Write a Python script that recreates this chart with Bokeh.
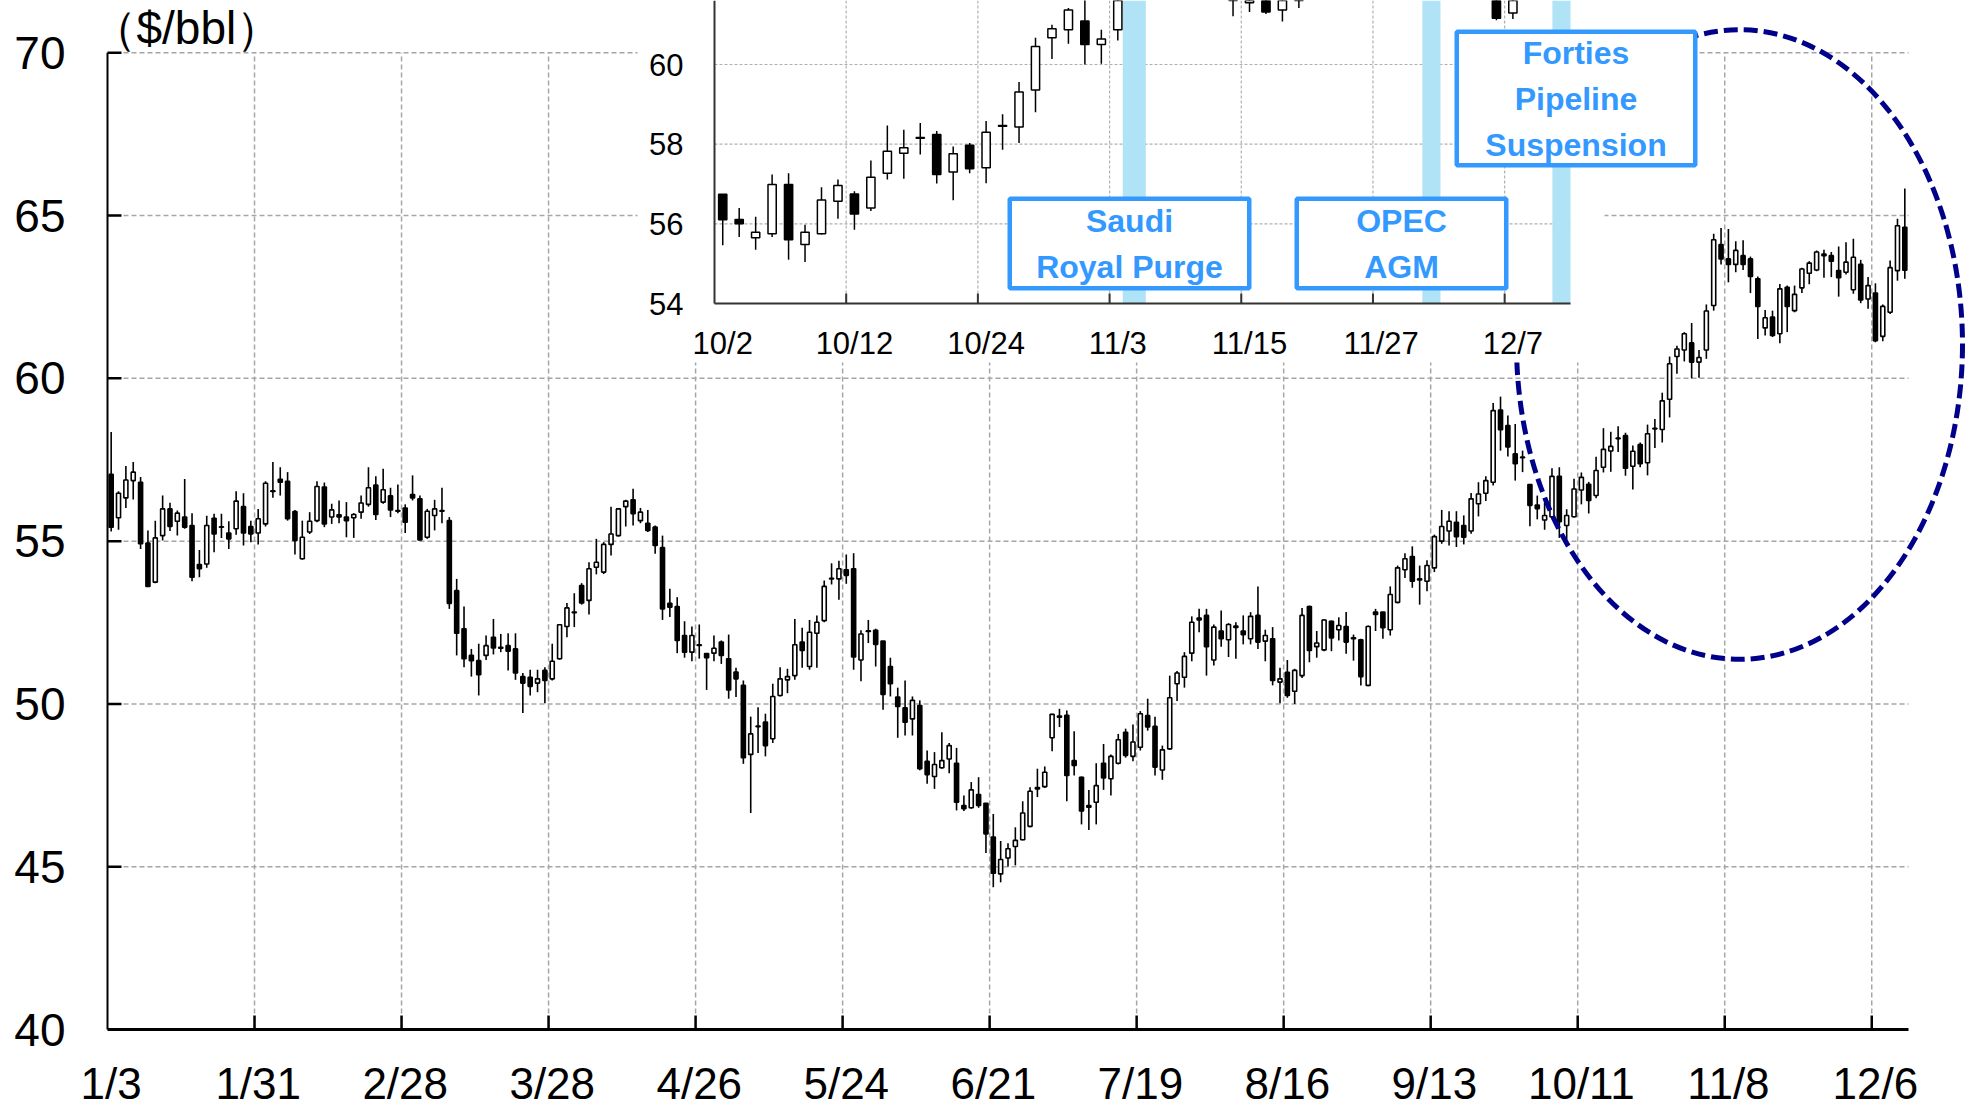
import numpy as np
from bokeh.plotting import figure
from bokeh.models import Range1d, Label, LabelSet, ColumnDataSource
from bokeh.core.properties import value
from bokeh.embed import file_html
from bokeh.resources import INLINE

# ---------------- data: Brent daily OHLC, trading days 1/3 .. 12/12 ----------------
OPEN = [
    57.05, 55.72, 56.33, 56.86, 56.81, 54.94, 53.74, 55.17, 55.99, 55.61,
    55.74, 55.48, 54.28, 54.30, 55.70, 55.43, 55.25, 55.38, 56.06, 55.45,
    55.25, 55.53, 56.55, 56.90, 56.84, 55.91, 54.46, 55.28, 55.63, 56.66,
    55.74, 55.81, 55.74, 55.72, 55.89, 56.13, 56.72, 56.20, 56.39, 55.94,
    56.02, 56.43, 56.30, 55.12, 55.79, 55.94, 55.63, 53.48, 52.31, 51.49,
    51.33, 51.49, 52.05, 51.74, 51.79, 51.69, 50.84, 50.82, 50.64, 51.03,
    50.77, 51.39, 52.38, 52.82, 53.64, 53.18, 54.20, 54.05, 54.90, 55.17,
    56.06, 56.27, 55.63, 55.55, 55.43, 54.80, 53.09, 52.99, 52.10, 51.59,
    51.82, 51.55, 51.56, 51.90, 51.39, 50.98, 50.57, 48.45, 49.32, 49.44,
    48.93, 50.26, 50.74, 50.87, 51.90, 51.15, 52.17, 52.56, 53.86, 53.84,
    54.12, 54.15, 51.35, 52.25, 52.26, 51.93, 51.15, 50.21, 49.88, 49.54,
    49.95, 48.24, 47.77, 48.04, 48.31, 48.18, 46.88, 46.81, 47.22, 46.95,
    45.91, 44.78, 45.27, 45.62, 45.83, 46.24, 47.43, 47.46, 48.96, 49.63,
    49.65, 48.26, 47.75, 46.88, 46.98, 48.18, 47.70, 48.18, 49.13, 48.39,
    48.67, 49.64, 49.31, 47.97, 48.62, 50.62, 50.82, 51.56, 52.64, 52.72,
    51.35, 52.24, 51.97, 52.39, 52.24, 52.00, 52.72, 51.93, 52.00, 50.67,
    50.97, 50.39, 50.87, 52.99, 51.76, 51.66, 52.54, 52.28, 52.38, 52.03,
    51.97, 50.57, 52.82, 52.82, 52.28, 53.12, 54.12, 54.53, 53.84, 53.77,
    54.18, 55.00, 55.31, 55.58, 55.48, 55.31, 56.15, 56.47, 56.81, 59.03,
    58.55, 57.68, 57.58, 56.74, 56.11, 55.65, 55.75, 56.99, 55.48, 55.75,
    56.57, 56.75, 56.40, 57.27, 57.77, 58.17, 58.24, 57.30, 57.97, 57.41,
    58.45, 58.43, 59.36, 60.67, 60.87, 61.09, 60.50, 60.87, 62.24, 64.11,
    63.67, 63.50, 63.77, 63.67, 63.06, 61.55, 61.88, 61.37, 62.80, 62.08,
    62.78, 63.23, 63.33, 63.82, 63.77, 63.31, 63.26, 62.72, 63.50, 62.44,
    62.62, 61.29, 62.03, 63.31, 64.64,
]
HIGH = [
    58.35, 56.53, 57.31, 57.43, 56.97, 55.33, 55.63, 56.40, 56.18, 55.94,
    56.91, 55.86, 54.73, 55.78, 55.84, 55.84, 55.61, 56.53, 56.47, 55.63,
    55.99, 56.84, 57.43, 57.27, 57.12, 55.96, 55.63, 55.89, 56.84, 56.80,
    56.15, 56.25, 56.20, 55.86, 56.40, 57.27, 56.99, 57.22, 56.64, 56.74,
    56.13, 57.02, 56.40, 55.99, 56.27, 56.64, 55.74, 53.84, 52.99, 51.69,
    51.85, 52.10, 52.61, 52.15, 52.17, 52.17, 50.95, 51.05, 51.05, 51.13,
    51.85, 52.44, 53.10, 53.40, 53.71, 54.35, 55.07, 54.97, 56.06, 56.02,
    56.27, 56.61, 56.02, 55.96, 55.48, 55.17, 53.54, 53.28, 52.54, 52.38,
    52.44, 51.55, 52.10, 51.95, 52.13, 51.11, 50.72, 49.61, 49.90, 49.70,
    50.62, 51.13, 51.08, 52.61, 52.34, 52.58, 52.72, 53.79, 54.32, 54.40,
    54.59, 54.63, 52.26, 52.58, 52.31, 51.93, 51.42, 50.50, 50.72, 50.23,
    50.11, 48.57, 48.52, 49.13, 48.80, 48.65, 47.19, 47.60, 47.75, 46.95,
    46.62, 45.79, 45.72, 46.21, 47.01, 47.44, 48.01, 48.08, 49.70, 49.85,
    49.80, 49.16, 47.77, 47.36, 48.18, 48.77, 48.45, 49.08, 49.24, 49.37,
    49.78, 50.16, 49.61, 48.72, 50.87, 51.01, 51.59, 52.69, 52.92, 52.92,
    52.44, 52.87, 52.48, 52.51, 52.72, 52.82, 53.61, 52.28, 52.36, 51.11,
    51.35, 51.08, 52.95, 53.02, 52.24, 52.61, 52.56, 52.66, 52.82, 52.13,
    52.00, 52.41, 52.92, 52.82, 53.61, 54.25, 54.63, 54.84, 54.25, 54.41,
    55.20, 55.96, 55.92, 55.92, 55.79, 56.48, 56.81, 56.99, 59.24, 59.44,
    58.86, 58.60, 57.78, 56.74, 56.40, 56.18, 57.24, 57.27, 55.98, 56.92,
    57.11, 56.82, 57.59, 58.47, 58.36, 58.53, 58.33, 57.94, 58.03, 58.58,
    58.75, 59.56, 60.67, 61.00, 61.42, 61.70, 60.87, 62.27, 64.44, 64.62,
    64.59, 64.21, 64.24, 63.74, 63.13, 62.10, 62.08, 62.90, 62.85, 62.85,
    63.40, 63.60, 63.93, 63.95, 63.88, 64.05, 64.18, 64.29, 63.64, 63.11,
    62.92, 62.27, 63.62, 64.90, 65.83,
]
LOW = [
    55.30, 55.35, 56.02, 56.28, 54.76, 53.59, 53.71, 55.02, 55.31, 55.17,
    55.38, 53.77, 53.89, 54.18, 54.66, 55.10, 54.76, 55.20, 54.87, 54.97,
    54.90, 55.45, 56.33, 56.40, 55.63, 54.59, 54.43, 55.22, 55.58, 55.43,
    55.53, 55.55, 55.12, 55.10, 55.69, 56.06, 55.65, 56.15, 55.74, 55.86,
    55.25, 56.25, 55.02, 55.07, 55.33, 55.55, 52.92, 51.49, 51.13, 50.84,
    50.26, 51.35, 51.52, 51.59, 51.03, 50.74, 49.72, 50.26, 50.36, 50.02,
    50.72, 51.36, 52.05, 52.36, 53.05, 52.75, 53.98, 53.99, 54.56, 55.14,
    55.45, 55.48, 55.55, 55.28, 54.61, 52.58, 52.67, 51.56, 51.42, 51.31,
    51.39, 50.43, 51.31, 51.23, 50.16, 50.21, 48.16, 46.65, 48.49, 48.39,
    48.80, 50.23, 50.33, 50.74, 51.11, 51.05, 51.11, 52.51, 53.67, 53.20,
    53.69, 51.05, 50.70, 51.87, 51.15, 49.82, 50.23, 48.96, 49.03, 49.03,
    47.96, 47.55, 47.39, 48.01, 47.87, 46.73, 46.71, 46.78, 46.81, 45.42,
    44.37, 44.52, 45.01, 45.04, 45.81, 46.21, 47.14, 47.42, 48.55, 49.29,
    47.01, 47.80, 46.30, 46.13, 46.30, 47.36, 47.19, 48.14, 48.35, 48.24,
    48.57, 49.18, 47.80, 47.67, 48.59, 50.09, 50.50, 51.31, 52.20, 50.87,
    51.18, 51.76, 51.44, 51.39, 51.83, 51.83, 51.69, 51.31, 50.57, 50.02,
    50.19, 50.00, 50.80, 51.28, 51.42, 51.62, 51.62, 51.95, 51.54, 51.33,
    50.57, 50.54, 52.24, 52.00, 52.10, 53.09, 53.87, 53.57, 53.05, 53.46,
    54.05, 54.92, 54.87, 54.82, 54.90, 55.23, 55.76, 56.23, 56.71, 57.78,
    57.60, 56.86, 57.12, 55.46, 55.67, 55.35, 55.67, 55.10, 55.04, 55.73,
    56.13, 55.85, 56.32, 57.11, 57.13, 57.74, 57.01, 56.59, 57.27, 57.02,
    57.86, 58.03, 58.80, 60.14, 60.52, 60.00, 60.02, 60.60, 62.08, 63.50,
    62.95, 63.26, 63.33, 62.62, 61.21, 61.32, 61.27, 61.08, 61.42, 62.03,
    62.62, 62.89, 63.29, 63.09, 63.11, 62.51, 63.19, 62.60, 62.31, 62.14,
    61.11, 61.14, 61.98, 63.00, 63.06,
]
CLOSE = [
    55.43, 56.47, 56.88, 57.12, 54.92, 53.61, 55.10, 55.99, 55.45, 55.86,
    55.43, 53.89, 54.15, 55.48, 55.22, 55.44, 55.07, 56.23, 55.25, 55.22,
    55.69, 56.78, 56.53, 56.81, 55.69, 55.02, 55.12, 55.61, 56.68, 55.53,
    55.96, 55.74, 55.63, 55.82, 56.17, 56.64, 55.82, 56.58, 55.96, 55.92,
    55.58, 56.33, 55.04, 55.92, 55.99, 55.92, 53.09, 52.17, 51.39, 51.33,
    50.90, 51.79, 51.72, 51.71, 51.62, 50.95, 50.64, 50.54, 50.77, 50.72,
    51.31, 52.43, 52.95, 52.80, 53.10, 54.15, 54.35, 54.90, 55.22, 55.99,
    56.23, 55.84, 55.89, 55.33, 54.87, 52.92, 52.97, 51.95, 51.59, 52.10,
    51.80, 51.42, 51.71, 51.49, 50.43, 50.77, 48.35, 49.08, 49.30, 48.72,
    50.23, 50.77, 50.84, 51.82, 51.64, 52.20, 52.51, 53.61, 53.84, 54.15,
    53.95, 51.44, 52.15, 52.23, 51.83, 50.29, 50.62, 49.92, 49.44, 50.11,
    48.01, 47.83, 48.14, 48.26, 48.72, 46.98, 46.78, 47.36, 46.88, 46.01,
    44.80, 45.22, 45.55, 45.81, 46.65, 47.32, 47.39, 47.90, 49.68, 49.59,
    47.80, 48.11, 46.71, 46.83, 47.49, 47.73, 48.39, 48.90, 48.42, 48.83,
    49.70, 49.29, 48.06, 48.59, 50.19, 50.95, 51.46, 52.51, 52.58, 51.76,
    52.36, 52.00, 52.44, 52.35, 52.13, 52.69, 51.90, 52.10, 50.72, 50.77,
    50.26, 51.03, 52.72, 51.64, 51.87, 52.58, 52.03, 52.41, 51.90, 52.00,
    50.84, 52.38, 52.75, 52.34, 53.36, 54.18, 54.46, 53.77, 53.81, 54.25,
    55.14, 55.45, 55.61, 55.14, 55.12, 56.30, 56.45, 56.86, 59.01, 58.42,
    57.89, 57.38, 57.56, 56.10, 56.00, 55.79, 56.99, 55.60, 55.79, 56.60,
    56.96, 56.25, 57.17, 57.82, 57.91, 58.15, 57.24, 57.76, 57.38, 58.30,
    58.47, 59.31, 60.45, 60.90, 61.37, 60.50, 60.64, 62.07, 64.26, 63.67,
    63.50, 63.93, 63.50, 63.13, 62.21, 61.86, 61.32, 62.75, 62.21, 62.58,
    63.36, 63.54, 63.88, 63.77, 63.60, 63.09, 63.57, 63.72, 62.41, 62.85,
    61.16, 62.21, 63.40, 64.69, 63.32,
]

MAIN_TICK_LABELS = ["1/3", "1/31", "2/28", "3/28", "4/26", "5/24", "6/21",
                    "7/19", "8/16", "9/13", "10/11", "11/8", "12/6"]
MAIN_TICK_STEP = 20
PRICE_TICKS = [40, 45, 50, 55, 60, 65, 70]
UNIT_LABEL = "（$/bbl）"

INSET_START = 193          # trading-day index of 10/2
INSET_TICK_LABELS = ["10/2", "10/12", "10/24", "11/3", "11/15", "11/27", "12/7"]
INSET_TICK_STEP = 8
INSET_PRICE_TICKS = [54, 56, 58, 60]

EVENT_TEXTS = [["Saudi", "Royal Purge"], ["OPEC", "AGM"], ["Forties", "Pipeline", "Suspension"]]
EVENT_BAND_LEFT = [24.8, 43.0, 50.9]     # inset trading-day units
EVENT_BAND_RIGHT = [26.2, 44.1, 52.0]

# ---------------- styles ----------------
FONT = "Liberation Sans"
GRID_COLOR = "#a6a6a6"
BLUE = "#3399ff"
BAND_COLOR = "#b0e3f5"
NAVY = "#00008b"

# ---------------- layout (figure pixels, origin top-left) ----------------
FIG_W, FIG_H = 1966, 1110
M_X0, M_X1 = 107.0, 1908.0       # main: day 0 and day N
M_Y_HI, M_Y_LO = 52.3, 1029.0    # main: 70 and 40
Y_LABEL_RIGHT = 65               # right edge of main price labels
X_LABEL_Y = 1083                 # centre line of main date labels
I_X0, I_X1 = 714.0, 1570.0       # inset: day 0 and day N
I_Y_HI, I_Y_LO = 64.0, 303.0     # inset: 60 and 54
INSET_BG = (637, 1604, -10, 362)  # left, right, top, bottom px
BOX_CENTERS = [(1129, 243), (1401, 243), (1575.5, 98)]
BOX_SIZES = [(239.5, 89.5), (209.5, 89.5), (238.5, 133.5)]
LINE_GAP = 46
ELLIPSE = (1739, 344, 446, 630)

P_HI, P_LO = PRICE_TICKS[-1], PRICE_TICKS[0]
IP_HI, IP_LO = INSET_PRICE_TICKS[-1], INSET_PRICE_TICKS[0]

o = np.array(OPEN); h = np.array(HIGH); l = np.array(LOW); c = np.array(CLOSE)
n_main = len(c)
n_inset = n_main - INSET_START

mxs = (M_X1 - M_X0) / n_main
mys = (M_Y_LO - M_Y_HI) / (P_HI - P_LO)
ixs = (I_X1 - I_X0) / n_inset
iys = (I_Y_LO - I_Y_HI) / (IP_HI - IP_LO)


def mx(px): return (px - M_X0) / mxs
def my(py): return P_HI - (py - M_Y_HI) / mys
def ix(px): return (px - I_X0) / ixs
def iy(py): return IP_LO + (I_Y_LO - py) / iys


p = figure(width=FIG_W, height=FIG_H,
           x_range=Range1d(mx(0), mx(FIG_W)),
           y_range=Range1d(my(FIG_H), my(0)),
           output_backend="svg", toolbar_location=None,
           x_axis_location=None, y_axis_location=None,
           min_border_left=0, min_border_right=0,
           min_border_top=0, min_border_bottom=0)
p.extra_x_ranges = {"ix": Range1d(ix(0), ix(FIG_W))}
p.extra_y_ranges = {"iy": Range1d(iy(FIG_H), iy(0))}
p.outline_line_color = None
p.grid.visible = False
p.background_fill_color = "white"
p.border_fill_color = "white"

IN = dict(x_range_name="ix", y_range_name="iy")


def candles(x, oo, hh, ll, cc, width, lw, **kw):
    up = cc >= oo
    p.segment(x0=x, y0=ll, x1=x, y1=hh, line_color="black", line_width=lw, **kw)
    p.vbar(x=x[up], width=width, top=cc[up], bottom=oo[up],
           fill_color="white", line_color="black", line_width=lw, **kw)
    p.vbar(x=x[~up], width=width, top=oo[~up], bottom=cc[~up],
           fill_color="black", line_color="black", line_width=lw, **kw)


def labels(xs, ys, texts, size, align="center", color="black", style="normal", **kw):
    src = ColumnDataSource(dict(x=list(xs), y=list(ys), text=list(texts)))
    p.add_layout(LabelSet(x="x", y="y", text="text", source=src,
                          text_font=value(FONT), text_font_size=value(size),
                          text_font_style=value(style), text_color=value(color),
                          text_align=value(align), text_baseline=value("middle"), **kw))


# ---------------- main chart ----------------
main_ticks = np.arange(0, n_main, MAIN_TICK_STEP)
gy = np.array(PRICE_TICKS[1:], dtype=float)
p.segment(x0=np.zeros_like(gy), y0=gy, x1=np.full_like(gy, n_main), y1=gy,
          line_color=GRID_COLOR, line_width=1.5, line_dash="5 3")
gx = main_ticks[1:].astype(float)
p.segment(x0=gx, y0=np.full_like(gx, P_LO), x1=gx, y1=np.full_like(gx, P_HI),
          line_color=GRID_COLOR, line_width=1.5, line_dash="5 3")

xm = np.arange(n_main) + 0.5
candles(xm, o, h, l, c, 0.55, 1.6)

# axes (drawn by hand so that the outermost date label is not clipped)
p.segment(x0=[0], y0=[P_LO], x1=[n_main], y1=[P_LO], line_color="black", line_width=3)
p.segment(x0=[0], y0=[P_LO], x1=[0], y1=[P_HI], line_color="black", line_width=2)
p.ray(x=gx, y=np.full_like(gx, P_LO), length=14, angle=np.pi / 2, length_units="screen",
      line_color="black", line_width=2.5)
pt = np.array(PRICE_TICKS[1:], dtype=float)
p.ray(x=np.zeros_like(pt), y=pt, length=14, angle=0, length_units="screen",
      line_color="black", line_width=2.5)
labels([mx(Y_LABEL_RIGHT)] * len(PRICE_TICKS), PRICE_TICKS, [str(v) for v in PRICE_TICKS],
       "46px", align="right")
labels(main_ticks + 0.5, [my(X_LABEL_Y)] * len(main_ticks), MAIN_TICK_LABELS, "44px")

ex, ey, ew, eh = ELLIPSE
p.ellipse(x=[mx(ex)], y=[my(ey)], width=[ew], height=[eh],
          width_units="screen", height_units="screen",
          fill_color=None, line_color=NAVY, line_width=5, line_dash="14 6")

p.add_layout(Label(x=mx(90), y=my(27), text=UNIT_LABEL, text_font=FONT,
                   text_font_size="46px", text_color="black",
                   text_align="left", text_baseline="middle"))

# ---------------- inset chart ----------------
bl, br, bt, bb = INSET_BG
p.quad(left=[ix(bl)], right=[ix(br)], top=[iy(bt)], bottom=[iy(bb)],
       fill_color="white", line_color=None, **IN)

inset_top = iy(0)
ig = np.array(INSET_PRICE_TICKS[1:], dtype=float)
p.segment(x0=np.zeros_like(ig), y0=ig, x1=np.full_like(ig, n_inset), y1=ig,
          line_color="#b0b0b0", line_width=1.2, line_dash="3 2", **IN)
inset_ticks = np.arange(0, n_inset, INSET_TICK_STEP)
igx = inset_ticks[1:].astype(float)
p.segment(x0=igx, y0=np.full_like(igx, IP_LO), x1=igx, y1=np.full_like(igx, inset_top),
          line_color="#b0b0b0", line_width=1.2, line_dash="3 2", **IN)

p.quad(left=EVENT_BAND_LEFT, right=EVENT_BAND_RIGHT, bottom=[IP_LO] * 3, top=[inset_top] * 3,
       fill_color=BAND_COLOR, line_color=None, **IN)

# inset shows Oct-Dec; days trading wholly above the inset's top edge fall outside it
s = slice(INSET_START, None)
io, ih, il, ic = o[s], h[s], l[s], c[s]
inside = il < inset_top
xi = (np.arange(n_inset) + 0.5)[inside]
candles(xi, io[inside], ih[inside], il[inside], ic[inside], 0.5, 1.5, **IN)

p.segment(x0=[0, 0], y0=[IP_LO, IP_LO], x1=[0, n_inset], y1=[inset_top, IP_LO],
          line_color="#333333", line_width=2, **IN)
p.ray(x=igx, y=np.full_like(igx, IP_LO), length=10, angle=np.pi / 2, length_units="screen",
      line_color="#333333", line_width=2, **IN)
labels([ix(683)] * len(INSET_PRICE_TICKS), INSET_PRICE_TICKS,
       [str(v) for v in INSET_PRICE_TICKS], "31px", align="right", **IN)
labels(inset_ticks + 0.5, [iy(343)] * len(inset_ticks), INSET_TICK_LABELS, "31px", **IN)

# ---------------- event boxes ----------------
for (cx, cy), (bw, bh), lines in zip(BOX_CENTERS, BOX_SIZES, EVENT_TEXTS):
    p.rect(x=[ix(cx)], y=[iy(cy)], width=[bw], height=[bh],
           width_units="screen", height_units="screen",
           fill_color="white", line_color=BLUE, line_width=4.5, **IN)
    k = len(lines)
    ys = [iy(cy + (j - (k - 1) / 2) * LINE_GAP) for j in range(k)]
    labels([ix(cx)] * k, ys, lines, "32px", color=BLUE, style="bold", **IN)

open("out.html", "w").write(file_html(p, INLINE))
